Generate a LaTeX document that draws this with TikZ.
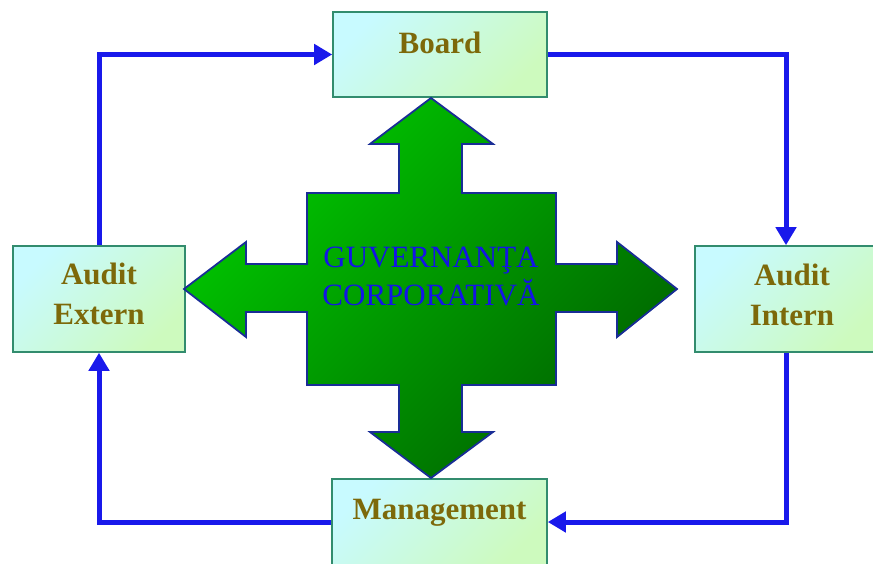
\documentclass[tikz,border=0pt]{standalone}
\usepackage{fontspec}
\setmainfont{Liberation Serif}
\usetikzlibrary{arrows.meta}

\definecolor{linkblue}{RGB}{25,25,235}
\definecolor{boxedge}{RGB}{50,140,110}
\definecolor{boxtop}{RGB}{200,250,255}
\definecolor{boxbot}{RGB}{205,250,190}
\definecolor{olivetext}{RGB}{125,105,10}
\definecolor{crosslight}{RGB}{0,200,0}
\definecolor{crossdark}{RGB}{0,100,0}
\definecolor{crossedge}{RGB}{25,45,150}
\definecolor{coretext}{RGB}{20,20,230}

\begin{document}
\begin{tikzpicture}[x=1pt, y=-1pt,
  box/.style={draw=boxedge, line width=1.6pt, top color=boxtop, bottom color=boxbot, shading angle=45},
  lbl/.style={text=olivetext, font=\fontsize{31}{40}\selectfont\bfseries, align=center},
  link/.style={draw=linkblue, line width=5pt, -{Triangle[length=18pt,width=20pt]}}]
  % Fix the page size
  \useasboundingbox (0,0) rectangle (873,564);
  \clip (0,0) rectangle (873,564);

  % Draw the four boxes
  \node[box, minimum width=214pt, minimum height=85pt] (board) at (440,54.5) {};
  \node[box, minimum width=172pt, minimum height=106pt] (extern) at (99,299) {};
  \node[box, minimum width=182pt, minimum height=106pt] (intern) at (786,299) {};
  \node[box, minimum width=215pt, minimum height=86pt] (mgmt) at (439.5,522) {};

  % Put the labels in the boxes
  \node[lbl] (board-t) at ([yshift=12pt]board.center) {Board};
  \node[lbl] (extern-t) at ([yshift=5pt]extern.center) {Audit\\Extern};
  \node[lbl] (intern-t) at ([xshift=6pt, yshift=4pt]intern.center) {Audit\\Intern};
  \node[lbl] (mgmt-t) at ([yshift=9pt]mgmt.center) {Management};

  % The green cross in the middle
  \draw[draw=crossedge, line width=1.8pt, top color=crosslight, bottom color=crossdark, shading angle=45]
    (431,98) -- (493,144) -- (462,144) -- (462,193) -- (556,193) -- (556,264)
    -- (617,264) -- (617,242) -- (677,289) -- (617,337) -- (617,312) -- (556,312)
    -- (556,385) -- (462,385) -- (462,432) -- (493,432) -- (431,478) -- (370,432)
    -- (399,432) -- (399,385) -- (307,385) -- (307,312) -- (246,312) -- (246,337)
    -- (184,289) -- (246,242) -- (246,264) -- (307,264) -- (307,193) -- (399,193)
    -- (399,144) -- (370,144) -- cycle;
  \node[text=coretext, font=\fontsize{31}{38}\selectfont, align=center] (core) at (431,276) {GUVERNANŢA\\CORPORATIVĂ};

  % Blue loop round the boxes
  \draw[link] (extern.north) |- (board.west);
  \draw[link] (board.east) -| (intern.north);
  \draw[link] (intern.south) |- (mgmt.east);
  \draw[link] (mgmt.west) -| (extern.south);
\end{tikzpicture}
\end{document}
